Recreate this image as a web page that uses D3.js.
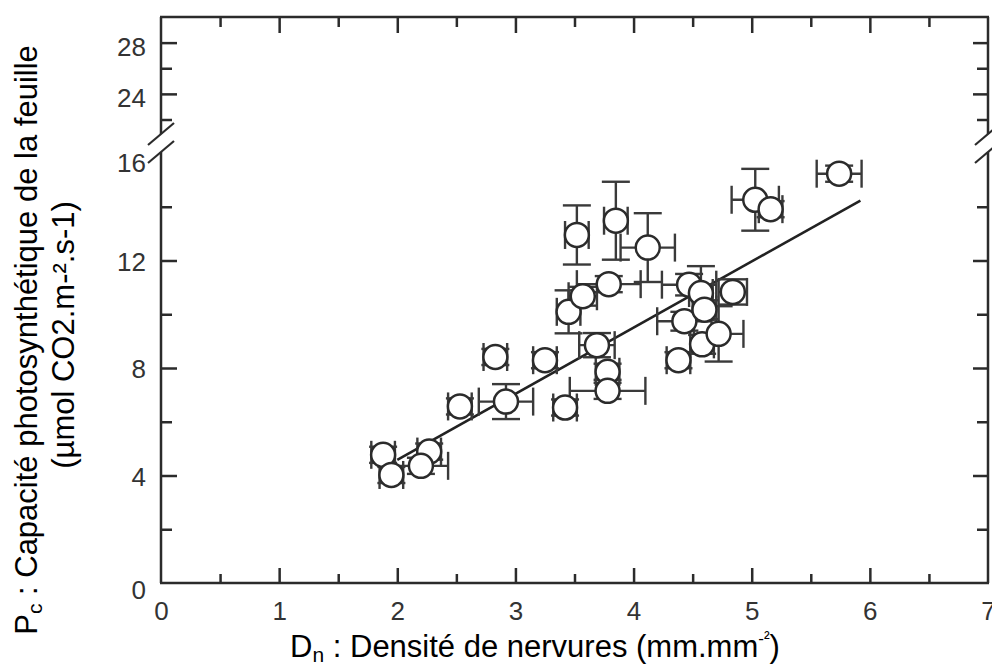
<!DOCTYPE html>
<html>
<head>
<meta charset="utf-8">
<script src="https://cdn.jsdelivr.net/npm/d3@7/dist/d3.min.js"></script>
<style>
body { margin: 0; background: #fff; }
</style>
</head>
<body>
<div id="chart-area"></div>
<script>
// values
var densite     = [1.88, 1.95, 2.27, 2.20, 2.53, 2.92, 2.83, 3.25, 3.42, 3.45, 3.57, 3.52, 3.69, 3.78, 3.78,
                   3.79, 3.85, 4.12, 4.38, 4.43, 4.47, 4.57, 4.60, 4.58, 4.72, 4.84, 5.03, 5.16, 5.74];
var capacite    = [4.77, 4.02, 4.89, 4.36, 6.57, 6.75, 8.41, 8.29, 6.53, 10.09, 10.67, 12.95, 8.85, 7.86, 7.15,
                   11.12, 13.48, 12.48, 8.29, 9.74, 11.10, 10.79, 10.17, 8.88, 9.27, 10.83, 14.26, 13.91, 15.23];
var errDensite  = [0.10, 0.10, 0.10, 0.23, 0.10, 0.23, 0.10, 0.10, 0.10, 0.10, 0.12, 0.10, 0.15, 0.10, 0.32,
                   0.27, 0.10, 0.23, 0.10, 0.23, 0.23, 0.10, 0.10, 0.10, 0.21, 0.12, 0.20, 0.10, 0.19];
var errCapacite = [0.30, 0.30, 0.30, 0.30, 0.30, 0.65, 0.30, 0.30, 0.30, 0.80, 0.35, 1.10, 0.45, 0.30, 0.30,
                   0.30, 1.45, 1.28, 0.30, 0.35, 0.40, 1.00, 0.35, 0.35, 1.03, 0.47, 1.15, 0.30, 0.30];

// regression line end points
var fitX = [2.00, 5.92];
var fitY = [4.58, 14.23];

var xLabels = [0, 1, 2, 3, 4, 5, 6, 7];
var xMajor = [1, 2, 3, 4, 5, 6];
var xMinor = [0.5, 1.5, 2.5, 3.5, 4.5, 5.5, 6.5];
var yLabels = [0, 4, 8, 12, 16, 24, 28];
var yMajor = [4, 8, 12, 24, 28];
var yMinor = [2, 6, 10, 14, 22, 26];

var W = 992, H = 668;
var plotL = 161, plotR = 988, plotT = 17, plotB = 583;
var ink = "#2b2b2b";
var font = "'Liberation Sans', Arial, sans-serif";

var svg = d3.select("#chart-area").append("svg")
    .attr("width", W)
    .attr("height", H);

var x = d3.scaleLinear().domain([0, 7]).range([plotL, plotR]);
// broken axis: 0-16 then 22-30 compressed
var y = d3.scaleLinear().domain([0, 16, 22, 30]).range([plotB, 153, 119.5, plotT]);

function cleanAxis(sel) {
    sel.select(".domain").remove();
    sel.selectAll(".tick line").attr("stroke", ink).attr("stroke-width", 2.5);
}

// ticks (all pointing inward)
svg.append("g").attr("transform", "translate(0," + plotB + ")")
    .call(d3.axisBottom(x).tickValues(xMajor).tickSize(-15).tickFormat("")).call(cleanAxis);
svg.append("g").attr("transform", "translate(0," + plotB + ")")
    .call(d3.axisBottom(x).tickValues(xMinor).tickSize(-9).tickFormat("")).call(cleanAxis);
svg.append("g").attr("transform", "translate(0," + plotT + ")")
    .call(d3.axisTop(x).tickValues(xMajor).tickSize(-16).tickFormat("")).call(cleanAxis);
svg.append("g").attr("transform", "translate(0," + plotT + ")")
    .call(d3.axisTop(x).tickValues(xMinor).tickSize(-10).tickFormat("")).call(cleanAxis);
svg.append("g").attr("transform", "translate(" + plotL + ",0)")
    .call(d3.axisLeft(y).tickValues(yMajor).tickSize(-16).tickFormat("")).call(cleanAxis);
svg.append("g").attr("transform", "translate(" + plotL + ",0)")
    .call(d3.axisLeft(y).tickValues(yMinor).tickSize(-11).tickFormat("")).call(cleanAxis);
svg.append("g").attr("transform", "translate(" + plotR + ",0)")
    .call(d3.axisRight(y).tickValues(yMajor).tickSize(-15).tickFormat("")).call(cleanAxis);
svg.append("g").attr("transform", "translate(" + plotR + ",0)")
    .call(d3.axisRight(y).tickValues(yMinor).tickSize(-11).tickFormat("")).call(cleanAxis);

// tick labels
var xl = svg.append("g").attr("transform", "translate(0," + plotB + ")")
    .call(d3.axisBottom(x).tickValues(xLabels).tickSize(0).tickPadding(19).tickFormat(d3.format("d")));
xl.select(".domain").remove();
xl.attr("font-family", font).attr("font-size", 26);
xl.selectAll("text").attr("fill", "#333");

var yl = svg.append("g").attr("transform", "translate(" + plotL + ",0)")
    .call(d3.axisLeft(y).tickValues(yLabels).tickSize(0).tickPadding(15).tickFormat(d3.format("d")));
yl.select(".domain").remove();
yl.attr("font-family", font).attr("font-size", 26);
yl.selectAll("text").attr("fill", "#333").attr("dy", function(d) {
    return d == 0 ? "0.6em" : d == 16 ? "0.7em" : d > 16 ? "0.48em" : "0.38em";
});

// frame with break
var breakHi = 134, breakLo = 152;
var frame = svg.append("g").attr("stroke", ink).attr("stroke-width", 2.5).attr("fill", "none");
frame.append("line").attr("x1", plotL - 1).attr("x2", plotR + 1).attr("y1", plotB).attr("y2", plotB);
frame.append("line").attr("x1", plotL - 1).attr("x2", plotR + 1).attr("y1", plotT).attr("y2", plotT);
[plotL, plotR].forEach(function(xx) {
    frame.append("line").attr("x1", xx).attr("x2", xx).attr("y1", plotB).attr("y2", breakLo);
    frame.append("line").attr("x1", xx).attr("x2", xx).attr("y1", breakHi).attr("y2", plotT);
    [breakHi, breakLo].forEach(function(yy) {
        frame.append("line")
            .attr("x1", xx - 13).attr("y1", yy + 11)
            .attr("x2", xx + 13).attr("y2", yy - 11)
            .attr("stroke-width", 2.2);
    });
});

// regression line
svg.append("line")
    .attr("x1", x(fitX[0])).attr("y1", y(fitY[0]))
    .attr("x2", x(fitX[1])).attr("y2", y(fitY[1]))
    .attr("stroke", "#222").attr("stroke-width", 2.6);

var pts = densite.map(function(d, i) {
    return {x: d, y: capacite[i], ex: errDensite[i], ey: errCapacite[i]};
});

// error bars
var cap = 14;
var bars = svg.append("g").attr("stroke", "#3a3a3a").attr("stroke-width", 2.4);
pts.forEach(function(p) {
    var cx = x(p.x), cy = y(p.y);
    var x0 = x(p.x - p.ex), x1 = x(p.x + p.ex);
    var y0 = y(p.y - p.ey), y1 = y(p.y + p.ey);
    bars.append("line").attr("x1", x0).attr("x2", x1).attr("y1", cy).attr("y2", cy);
    bars.append("line").attr("x1", x0).attr("x2", x0).attr("y1", cy - cap).attr("y2", cy + cap);
    bars.append("line").attr("x1", x1).attr("x2", x1).attr("y1", cy - cap).attr("y2", cy + cap);
    bars.append("line").attr("x1", cx).attr("x2", cx).attr("y1", y0).attr("y2", y1);
    bars.append("line").attr("x1", cx - cap).attr("x2", cx + cap).attr("y1", y0).attr("y2", y0);
    bars.append("line").attr("x1", cx - cap).attr("x2", cx + cap).attr("y1", y1).attr("y2", y1);
});

// points
svg.append("g").selectAll("circle").data(pts).enter()
    .append("circle")
    .attr("cx", function(d) { return x(d.x); })
    .attr("cy", function(d) { return y(d.y); })
    .attr("r", 12)
    .attr("fill", "#fff")
    .attr("stroke", ink)
    .attr("stroke-width", 2.5);

// axis titles
var xt = svg.append("text")
    .attr("x", 535).attr("y", 657)
    .attr("text-anchor", "middle")
    .attr("font-family", font).attr("font-size", 31).attr("fill", "#000");
xt.append("tspan").text("D");
xt.append("tspan").attr("font-size", 21).attr("dy", 5).text("n");
xt.append("tspan").attr("dy", -5).text(" : Densité de nervures (mm.mm");
xt.append("tspan").attr("font-size", 17).attr("dy", -13).text("-²");
xt.append("tspan").attr("dy", 13).text(")");

var yt = svg.append("text")
    .attr("transform", "translate(37,340) rotate(-90)")
    .attr("text-anchor", "middle")
    .attr("font-family", font).attr("font-size", 31).attr("fill", "#000");
yt.append("tspan").text("P");
yt.append("tspan").attr("font-size", 21).attr("dy", 5).text("c");
yt.append("tspan").attr("dy", -5).text(" : Capacité photosynthétique de la feuille");

svg.append("text")
    .attr("transform", "translate(74,335) rotate(-90)")
    .attr("text-anchor", "middle")
    .attr("font-family", font).attr("font-size", 31).attr("fill", "#000")
    .text("(µmol CO2.m-².s-1)");
</script>
</body>
</html>
